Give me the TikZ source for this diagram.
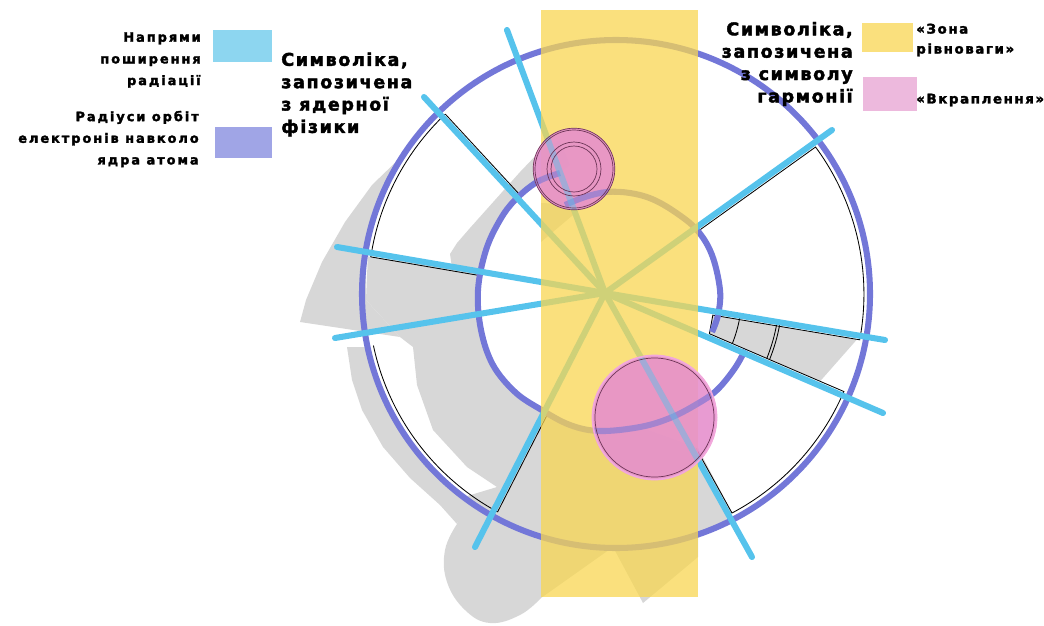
\documentclass[tikz,border=0pt]{standalone}
\usepackage{fontspec}
\newfontfamily\titlefont{DejaVu Sans}[LetterSpace=9, FakeBold=2.2]
\newfontfamily\keyfont{DejaVu Sans}[LetterSpace=15, FakeBold=2.2]
\newfontfamily\tagfont{DejaVu Sans}[LetterSpace=12, FakeBold=2.2]
\usetikzlibrary{positioning}
\definecolor{raycol}{HTML}{56C3EC}
\definecolor{raykey}{HTML}{8DD6F0}
\definecolor{orbcol}{HTML}{7377D8}
\definecolor{orbkey}{HTML}{A0A5E6}
\definecolor{zonecol}{HTML}{F8D652}
\definecolor{zonekey}{HTML}{FAE07D}
\definecolor{dotcol}{HTML}{E690CD}
\definecolor{dotkey}{HTML}{EDB9DD}
\definecolor{dotrim}{HTML}{F2A8DC}
\definecolor{dotedge}{HTML}{6E3558}
\definecolor{shadowgray}{HTML}{D7D7D7}
\tikzset{
	ray/.style={line width=4.3pt, draw=raycol, line cap=round},
	orbit/.style={line width=4.3pt, draw=orbcol},
	edge/.style={draw=black, line width=0.6pt},
	castshadow/.style={fill=shadowgray, draw=none},
	swatch/.style={draw=none, inner sep=0pt},
	% text styles
	title/.style={inner sep=0pt, font=\titlefont\bfseries\fontsize{12.5}{15.9}\selectfont},
	keytext/.style={inner sep=0pt, font=\keyfont\bfseries\fontsize{9.2}{15.4}\selectfont},
	tagtext/.style={inner sep=0pt, font=\tagfont\bfseries\fontsize{9.5}{14.2}\selectfont}
}
\newcommand{\lowerorbit}{plot[smooth, tension=0.6] coordinates {(560,173) (537,182) (515,200) (500,220) (486,250)
	(478,290) (481,330) (493,365) (515,392) (540,409) (570,425) (600,431) (640,427) (670,418) (697,404)
	(717,390) (735,368) (745,350)}}
\newcommand{\upperorbit}{plot[smooth, tension=0.6] coordinates {(565,205) (585,197) (607,192) (630,193) (652,199)
	(675,212) (697,230) (712,255) (720,290) (718,315) (712,332)}}
\begin{document}
\begin{tikzpicture}[x=0.025cm, y=-0.025cm]
	\useasboundingbox (0,0) rectangle (1044,625);
	
	\coordinate (ctr) at (605,293);
	\coordinate (orb) at (616,294);
	\coordinate (ra) at (507,30);
	\coordinate (rb) at (424,97);
	\coordinate (rc) at (337,247);
	\coordinate (rd) at (335,338);
	\coordinate (re) at (475,547);
	\coordinate (rf) at (752,557);
	\coordinate (rg) at (883,413);
	\coordinate (rh) at (885,340);
	\coordinate (ri) at (832,130);
	
	% shadow
	\fill[castshadow] (402,156) -- (372,185) -- (345,222) -- (322,262) -- (306,300) -- (300,322) -- (400,337)
		-- (366,300) -- (366,252) -- (376,210) -- (389,180) -- cycle;
	\fill[castshadow] (367.8,256.3) -- (452,268) -- (450,254) -- (457,243) -- (470,228) -- (495,200) -- (520,172)
		-- (541,150) -- (560,140) -- (570,165) -- (560,173) -- (537,182) -- (515,200) -- (500,220) -- (486,250)
		-- (478,290) -- (481,330) -- (493,365) -- (515,392) -- (540,410) -- (570,425) -- (600,431) -- (640,427)
		-- (698,448) -- (698,557) -- (643,603) -- (613,547) -- (541,598)
		-- plot[smooth, tension=0.7] coordinates {(541,598) (520,615) (490,623) (465,610) (447,582) (445,550) (457,524)}
		-- (464,497) -- (497,487) -- (467,467) -- (433,430) -- (417,385) -- (413,347) -- (400,337) -- (366,300) -- cycle;
	\fill[castshadow] (347,347) -- (352,380) -- (362,410) -- (383,447) -- (410,478) -- (440,505) -- (457,524)
		-- (466,499) -- (441,478) -- (413,447) -- (390,410) -- (377,380) -- (368,347) -- cycle;
	\fill[castshadow] (541,203) -- (585,205) -- (541,242) -- cycle;
	\fill[castshadow] (712.8,315.1) -- (857,339.4) -- (820,381.4) -- (709.4,333.7) -- cycle;
	\fill[castshadow] (698,448) -- (732,513) -- (720,526) -- (698,536) -- cycle;
	
	% plate outlines
	\begin{scope}[edge]
		\draw (445.3,114.1) -- (521.1,196.2);
		\draw (370.8,256.9) -- (481.1,275.8);
		\draw (547.1,415.0) -- (497.6,511.9);
		\draw (orb) ++(188.6:248) arc[start angle=188.6, end angle=226.5, radius=248];
		\draw (orb) ++(118.5:248) arc[start angle=118.5, end angle=168, radius=248];
		\draw (696.1,448.3) -- (732.0,513.0) arc[start angle=62.1, end angle=23.2, radius=248]
			-- (709.4,333.7) -- (712.8,315.1) -- (859.7,339.8) arc[start angle=10.6, end angle=-36.4, radius=248]
			-- (697.5,231.6);
		\draw (ctr) ++(10.5:137) arc[start angle=10.5, end angle=21.5, radius=137];
		\draw (ctr) ++(10:174.5) arc[start angle=10, end angle=22, radius=174.5];
		\draw (ctr) ++(10:177.5) arc[start angle=10, end angle=22, radius=177.5];
	\end{scope}
	
	% orbits
	\draw[orbit] (orb) circle[radius=254];
	\draw[orbit] \lowerorbit;
	\draw[orbit] \upperorbit;
	
	% radiation
	\foreach \tip in {ra,rb,rc,rd,re,rf,rg,rh,ri}
		\draw[ray] (ctr) -- (\tip);
	
	% balance zone
	\fill[zonecol, fill opacity=0.75] (541,10) rectangle (698,597);
	
	% inclusions
	\coordinate (dot1) at (574,169);
	\coordinate (dot2) at (654.5,417.5);
	\fill[dotcol, fill opacity=0.9] (dot1) circle[radius=41];
	\fill[dotcol, fill opacity=0.9] (dot2) circle[radius=62.5];
	\begin{scope}
		\clip (dot1) circle[radius=41];
		\draw[orbit, draw opacity=0.55] \lowerorbit;
		\draw[orbit, draw opacity=0.55] \upperorbit;
		\draw[ray, draw opacity=0.45] (ctr) -- (ra);
	\end{scope}
	\begin{scope}
		\clip (dot2) circle[radius=62.5];
		\draw[orbit, draw opacity=0.55] \lowerorbit;
		\draw[ray, draw opacity=0.45] (ctr) -- (rf);
	\end{scope}
	\draw[dotedge, line width=0.5pt] (dot1) circle[radius=40.8] (dot1) circle[radius=39] (dot1) circle[radius=27] (dot1) circle[radius=23];
	\draw[dotrim, line width=1.2pt] (dot2) circle[radius=62];
	\draw[dotedge, line width=0.5pt] (dot2) circle[radius=59.5];
	
	% keys
	\node[swatch, fill=raykey, minimum width=1.475cm, minimum height=0.8cm] (rkey) at (242.5,46) {};
	\node[swatch, fill=orbkey, minimum width=1.425cm, minimum height=0.775cm] (okey) at (243.5,142.5) {};
	\node[swatch, fill=zonekey, minimum width=1.275cm, minimum height=0.725cm] (zkey) at (887.5,37.5) {};
	\node[swatch, fill=dotkey, minimum width=1.35cm, minimum height=0.85cm] (dkey) at (890,94) {};
	
	\node[keytext, anchor=east, align=right] (rtext) at (201,60) {Напрями\\поширення\\радіації};
	\node[keytext, anchor=east, align=right] (otext) at (199,139) {Радіуси орбіт\\електронів навколо\\ядра атома};
	\node[title, anchor=west, align=left] (phys) at (281,94.5) {Символіка,\\запозичена\\з ядерної\\фізики};
	\node[title, anchor=east, align=right] (harm) at (853,64) {Символіка,\\запозичена\\з символу\\гармонії};
	\node[tagtext, anchor=west, align=left] (ztext) at (916,40) {«Зона\\рівноваги»};
	\node[tagtext, anchor=west] (dtext) at (916,100) {«Вкраплення»};
\end{tikzpicture}
\end{document}
